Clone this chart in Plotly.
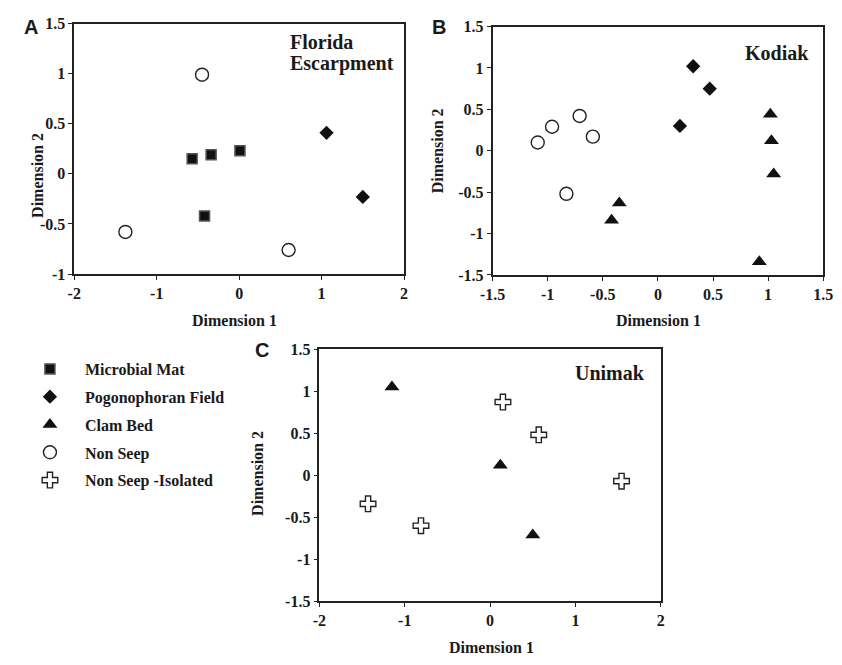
import plotly.graph_objects as go

# ---------------- data ----------------
categories = ["Microbial Mat", "Pogonophoran Field", "Clam Bed", "Non Seep", "Non Seep -Isolated"]

# Panel A: Florida Escarpment
fe_mat_x = [-0.57, -0.34, 0.01, -0.42]
fe_mat_y = [0.15, 0.19, 0.23, -0.42]
fe_pogo_x = [1.06, 1.50]
fe_pogo_y = [0.41, -0.23]
fe_non_x = [-0.45, -1.38, 0.60]
fe_non_y = [0.99, -0.58, -0.76]

# Panel B: Kodiak
ko_non_x = [-1.09, -0.96, -0.71, -0.59, -0.83]
ko_non_y = [0.10, 0.29, 0.42, 0.17, -0.52]
ko_pogo_x = [0.32, 0.47, 0.20]
ko_pogo_y = [1.02, 0.75, 0.30]
ko_clam_x = [1.02, 1.03, 1.05, -0.35, -0.42, 0.92]
ko_clam_y = [0.44, 0.12, -0.28, -0.63, -0.84, -1.34]

# Panel C: Unimak
un_clam_x = [-1.15, 0.12, 0.50]
un_clam_y = [1.05, 0.12, -0.71]
un_iso_x = [0.15, 0.57, 1.54, -1.43, -0.81]
un_iso_y = [0.87, 0.48, -0.07, -0.34, -0.60]

# axis ticks
a_xticks = [-2, -1, 0, 1, 2]
a_xlabels = ["-2", "-1", "0", "1", "2"]
a_yticks = [-1, -0.5, 0, 0.5, 1, 1.5]
a_ylabels = ["-1", "-0.5", "0", "0.5", "1", "1.5"]
b_xticks = [-1.5, -1, -0.5, 0, 0.5, 1, 1.5]
b_xlabels = ["-1.5", "-1", "-0.5", "0", "0.5", "1", "1.5"]
b_yticks = [-1.5, -1, -0.5, 0, 0.5, 1, 1.5]
b_ylabels = ["-1.5", "-1", "-0.5", "0", "0.5", "1", "1.5"]
c_xticks = a_xticks
c_xlabels = a_xlabels
c_yticks = b_yticks
c_ylabels = b_ylabels

# ---------------- styles ----------------
W, H = 842, 665
SERIF = "Liberation Serif"
SANS = "Liberation Sans"
INK = "#1a1a1a"

styles = {
    "Microbial Mat": dict(symbol="square", size=10, color="#111111", line=dict(color="#555555", width=1.5)),
    "Pogonophoran Field": dict(symbol="diamond", size=11, color="#111111", line=dict(color="#111111", width=0)),
    "Clam Bed": dict(symbol="triangle-up", size=13, color="#111111", line=dict(color="#111111", width=0)),
    "Non Seep": dict(symbol="circle-open", size=13, color="#222222", line=dict(color="#222222", width=1.4)),
    "Non Seep -Isolated": dict(symbol="cross-open", size=13, color="#222222", line=dict(color="#222222", width=1.4)),
}

panels = {
    "A": [("Microbial Mat", fe_mat_x, fe_mat_y), ("Pogonophoran Field", fe_pogo_x, fe_pogo_y),
          ("Non Seep", fe_non_x, fe_non_y)],
    "B": [("Pogonophoran Field", ko_pogo_x, ko_pogo_y), ("Clam Bed", ko_clam_x, ko_clam_y),
          ("Non Seep", ko_non_x, ko_non_y)],
    "C": [("Clam Bed", un_clam_x, un_clam_y), ("Non Seep -Isolated", un_iso_x, un_iso_y)],
}
axes_of = {"A": ("x", "y"), "B": ("x2", "y2"), "C": ("x3", "y3")}

fig = go.Figure()
shown = set()
for cat in categories:
    for p in ["A", "B", "C"]:
        for (c, xs, ys) in panels[p]:
            if c != cat:
                continue
            st = styles[c]
            xa, ya = axes_of[p]
            fig.add_trace(go.Scatter(
                x=xs, y=ys, mode="markers", name=c, xaxis=xa, yaxis=ya,
                legendgroup=c, showlegend=c not in shown,
                legendrank=categories.index(c) + 1,
                marker=dict(symbol=st["symbol"], size=st["size"], color=st["color"], line=st["line"]),
            ))
            shown.add(c)


def px_x(v):
    return v / W


def px_y(v):
    return 1 - v / H


def axis(domain, rng, tv, tt, anchor):
    return dict(domain=domain, range=rng, tickvals=tv, ticktext=["<b>%s</b>" % t for t in tt],
                anchor=anchor,
                showgrid=False, zeroline=False, showline=True, mirror=True,
                linecolor="#222222", linewidth=1.6, ticks="outside", ticklen=4,
                tickcolor="#222222", tickwidth=1.4,
                tickfont=dict(family=SERIF, size=16, color=INK, weight="bold"))


fig.update_layout(
    width=W, height=H, margin=dict(l=0, r=0, t=0, b=0),
    paper_bgcolor="white", plot_bgcolor="white",
    xaxis=axis([px_x(63), px_x(402)], [-2, 2], a_xticks, a_xlabels, "y"),
    yaxis=axis([px_y(273), px_y(16)], [-1, 1.5], a_yticks, a_ylabels, "x"),
    xaxis2=axis([px_x(493), px_x(833)], [-1.5, 1.5], b_xticks, b_xlabels, "y2"),
    yaxis2=axis([px_y(274), px_y(19)], [-1.5, 1.5], b_yticks, b_ylabels, "x2"),
    xaxis3=axis([px_x(315), px_x(666)], [-2, 2], c_xticks, c_xlabels, "y3"),
    yaxis3=axis([px_y(609), px_y(350)], [-1.5, 1.5], c_yticks, c_ylabels, "x3"),
    legend=dict(x=px_x(2), y=px_y(353), xanchor="left", yanchor="top",
                font=dict(family=SERIF, size=16, color=INK, weight="bold"),
                itemwidth=60, tracegroupgap=4, traceorder="grouped",
                bgcolor="rgba(0,0,0,0)"),
    showlegend=True,
)

ann = []


def text(t, x, y, size, family=SERIF, xanchor="center", angle=0):
    ann.append(dict(text="<b>%s</b>" % t, x=px_x(x), y=px_y(y), xref="paper", yref="paper",
                    xanchor=xanchor, yanchor="middle", showarrow=False, textangle=angle,
                    font=dict(family=family, size=size, color=INK)))


# panel letters
text("A", 18, 20, 20, SANS)
text("B", 438, 19, 20, SANS)
text("C", 256, 351, 20, SANS)
# site names
text("Florida", 283, 35, 20, xanchor="left")
text("Escarpment", 283, 57, 20, xanchor="left")
text("Kodiak", 751, 46, 20, xanchor="left")
text("Unimak", 576, 375, 20, xanchor="left")
# axis titles
text("Dimension 1", 228, 321, 16)
text("Dimension 1", 664, 321, 16)
text("Dimension 1", 492, 656, 16)
text("Dimension 2", 25, 172, 16, angle=-90)
text("Dimension 2", 436, 147, 16, angle=-90)
text("Dimension 2", 252, 478, 16, angle=-90)

fig.update_layout(annotations=ann)
fig.write_html("out.html")
